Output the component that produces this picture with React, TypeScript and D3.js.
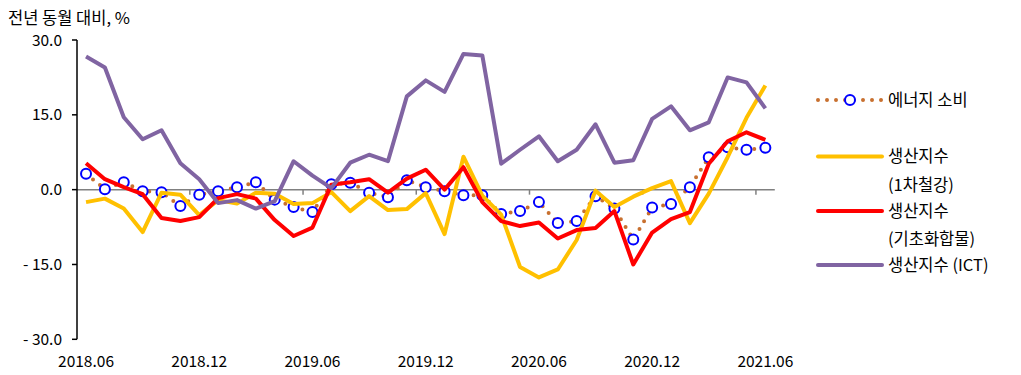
import React from "react";
import * as d3 from "d3";

const months: string[] = [
  "2018.06","2018.07","2018.08","2018.09","2018.10","2018.11","2018.12",
  "2019.01","2019.02","2019.03","2019.04","2019.05","2019.06","2019.07",
  "2019.08","2019.09","2019.10","2019.11","2019.12","2020.01","2020.02",
  "2020.03","2020.04","2020.05","2020.06","2020.07","2020.08","2020.09",
  "2020.10","2020.11","2020.12","2021.01","2021.02","2021.03","2021.04",
  "2021.05","2021.06",
];
const tickLabels: string[] = ["2018.06","2018.12","2019.06","2019.12","2020.06","2020.12","2021.06"];
const yTicks: number[] = [30, 15, 0, -15, -30];
const yTickLabels: string[] = ["30.0", "15.0", "0.0", "- 15.0", "- 30.0"];

const energy: number[] = [3.2,0.1,1.5,-0.3,-0.5,-3.3,-1.0,-0.3,0.5,1.5,-2.0,-3.5,-4.5,1.1,1.4,-0.6,-1.5,1.9,0.5,-0.3,-1.1,-1.1,-4.9,-4.3,-2.5,-6.7,-6.3,-1.3,-3.8,-10.0,-3.6,-2.9,0.5,6.5,8.5,8.0,8.4];
const steel: number[] = [-2.5,-1.8,-3.8,-8.5,-0.6,-1.0,-5.1,-2.1,-2.8,-0.6,-0.8,-2.9,-2.7,-0.5,-4.3,-1.3,-4.1,-3.9,-0.7,-8.9,6.6,-1.2,-5.0,-15.5,-17.6,-16.0,-10.1,-0.2,-3.5,-1.4,0.3,1.7,-6.7,-0.8,6.5,14.4,20.9];
const chem: number[] = [5.3,2.1,0.5,-0.9,-5.7,-6.3,-5.5,-1.7,-0.9,-1.8,-6.1,-9.3,-7.6,1.0,1.5,2.1,-0.6,2.2,4.0,0.0,4.5,-2.5,-6.3,-7.3,-6.6,-9.8,-8.1,-7.7,-4.3,-15.0,-8.6,-5.9,-4.5,5.2,9.7,11.5,10.0];
const ict: number[] = [26.7,24.5,14.5,10.1,11.9,5.3,2.1,-2.7,-2.1,-3.8,-2.3,5.7,2.8,0.3,5.4,7.0,5.7,18.7,21.9,19.6,27.2,26.9,5.2,8.0,10.7,5.7,8.0,13.1,5.4,5.9,14.2,16.7,11.9,13.5,22.5,21.5,16.3];

const FONT = "'Noto Sans CJK KR', 'Noto Sans', sans-serif";
const C_DOT = "#C8702F";
const C_CIRCLE = "#0000FF";
const C_STEEL = "#FFC000";
const C_CHEM = "#FF0000";
const C_ICT = "#8064A2";

export default function App() {
  const W = 1021, H = 375;
  const x = d3.scaleBand<string>().domain(months).range([76.6, 774.8]).padding(0);
  const y = d3.scaleLinear().domain([-30, 30]).range([339.3, 40]);
  const cx = (i: number) => (x(months[i]) as number) + x.bandwidth() / 2;
  const line = d3.line<number>().x((_, i) => cx(i)).y((v) => y(v));

  const boundaryTicks = tickLabels.map((t) => x(t) as number);
  const legendX0 = 818, legendX1 = 882, textX = 888;
  const lf = 16.5;

  return (
    <svg width={W} height={H} style={{ position: "absolute", left: 0, top: 0, background: "#fff" }} fontFamily={FONT}>
      <text x={8} y={24} fontSize={16.5} fill="#000">전년 동월 대비, %</text>

      <line x1={x.range()[0]} x2={x.range()[1]} y1={y(0)} y2={y(0)} stroke="#808080" strokeWidth={1.5} />
      {boundaryTicks.slice(1).map((bx, k) => (
        <line key={k} x1={bx} x2={bx} y1={y(0)} y2={y(0) + 5} stroke="#808080" strokeWidth={1.5} />
      ))}

      <line x1={77} x2={77} y1={y(30)} y2={y(-30)} stroke="#000" strokeWidth={1.5} />
      {yTicks.map((t, k) => (
        <g key={k}>
          <line x1={72} x2={77} y1={y(t)} y2={y(t)} stroke="#000" strokeWidth={1.5} />
          <text x={62} y={y(t)} dy="0.36em" textAnchor="end" fontSize={15.5} fill="#000">{yTickLabels[k]}</text>
        </g>
      ))}

      {tickLabels.map((t, k) => (
        <text key={k} x={(x(t) as number) + x.bandwidth() / 2} y={367} textAnchor="middle" fontSize={15.5} fill="#000">{t}</text>
      ))}

      <path d={line(energy) || ""} fill="none" stroke={C_DOT} strokeWidth={4} strokeLinecap="round" strokeDasharray="0 9" />
      {energy.map((v, i) => (
        <circle key={i} cx={cx(i)} cy={y(v)} r={5} fill="#fff" stroke={C_CIRCLE} strokeWidth={2} />
      ))}

      <path d={line(steel) || ""} fill="none" stroke={C_STEEL} strokeWidth={4} strokeLinejoin="round" />
      <path d={line(chem) || ""} fill="none" stroke={C_CHEM} strokeWidth={4} strokeLinejoin="round" />
      <path d={line(ict) || ""} fill="none" stroke={C_ICT} strokeWidth={4} strokeLinejoin="round" />

      <g>
        <line x1={legendX0} x2={legendX1} y1={100} y2={100} stroke={C_DOT} strokeWidth={4} strokeLinecap="round" strokeDasharray="0 9" />
        <circle cx={850} cy={100} r={5} fill="#fff" stroke={C_CIRCLE} strokeWidth={2} />
        <text x={textX} y={100} dy="0.36em" fontSize={lf} fill="#000">에너지 소비</text>

        <line x1={legendX0} x2={legendX1} y1={156.5} y2={156.5} stroke={C_STEEL} strokeWidth={4} strokeLinecap="round" />
        <text x={textX} y={156.5} dy="0.36em" fontSize={lf} fill="#000">생산지수</text>
        <text x={textX} y={185} dy="0.36em" fontSize={lf} fill="#000">(1차철강)</text>

        <line x1={legendX0} x2={legendX1} y1={211} y2={211} stroke={C_CHEM} strokeWidth={4} strokeLinecap="round" />
        <text x={textX} y={211} dy="0.36em" fontSize={lf} fill="#000">생산지수</text>
        <text x={textX} y={239} dy="0.36em" fontSize={lf} fill="#000">(기초화합물)</text>

        <line x1={legendX0} x2={legendX1} y1={265} y2={265} stroke={C_ICT} strokeWidth={4} strokeLinecap="round" />
        <text x={textX} y={265} dy="0.36em" fontSize={lf} fill="#000">생산지수 (ICT)</text>
      </g>
    </svg>
  );
}
